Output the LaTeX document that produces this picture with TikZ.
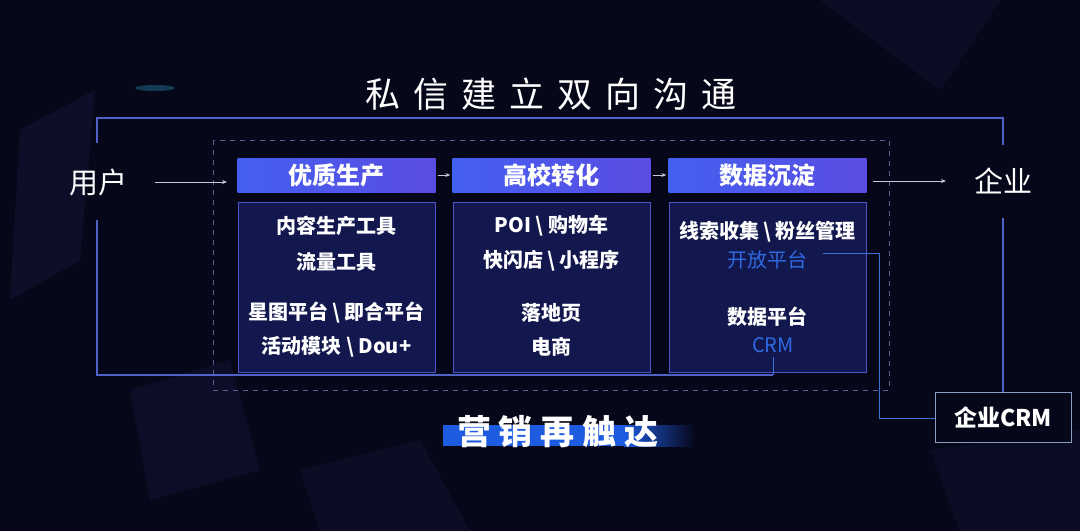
\documentclass[tikz,border=0pt]{standalone}
\usepackage{fontspec}
\setmainfont{Noto Sans CJK SC}
\usetikzlibrary{arrows.meta}
\definecolor{bg}{HTML}{07071A}
\definecolor{bgshard}{HTML}{1A1A40}
\definecolor{frameblue}{HTML}{5062C8}
\definecolor{dashc}{HTML}{5A6094}
\definecolor{hdrL}{HTML}{4460F0}
\definecolor{hdrR}{HTML}{5A4CE2}
\definecolor{cboxfill}{HTML}{151A58}
\definecolor{cboxline}{HTML}{4A56C8}
\definecolor{bluetxt}{HTML}{2F6AE0}
\definecolor{linkblue}{HTML}{3A72D8}
\definecolor{crmline}{HTML}{8A9CC4}
\definecolor{arrc}{HTML}{C8C8DC}
\definecolor{barblue}{HTML}{1D5BE0}
\definecolor{glow}{HTML}{2FB8D8}
\newcommand{\tgapA}{\kern13pt}
\newcommand{\tgapB}{\kern8pt}
\begin{document}
\begin{tikzpicture}[x=1pt,y=-1pt,
  hdr/.style={draw=none,left color=hdrL,right color=hdrR,minimum width=198pt,minimum height=34pt,inner sep=0pt,text=white,font=\fontsize{24}{24}\selectfont\bfseries},
  cbox/.style={draw=cboxline,line width=1pt,fill=cboxfill,fill opacity=0.85,minimum width=197pt,minimum height=170pt,inner sep=0pt},
  txt/.style={text=white,inner sep=0pt,font=\fontsize{20}{22}\selectfont\bfseries},
  btxt/.style={text=bluetxt,inner sep=0pt,font=\fontsize{20}{22}\selectfont},
  big/.style={text=white,inner sep=0pt,font=\fontsize{29}{30}\selectfont},
  frame/.style={draw=frameblue,line width=1.2pt},
  link/.style={draw=linkblue,line width=1pt},
  arr/.style={draw=arrc,line width=0.9pt,-{Stealth[length=5pt,width=4pt]}},
  dashbox/.style={draw=dashc,line width=1pt,dash pattern=on 5pt off 5pt}]
\useasboundingbox (0,0) rectangle (1080,531);
\fill[bg] (0,0) rectangle (1080,531);
% faint background shards
\fill[bgshard,opacity=0.4] (20,130) -- (95,90) -- (80,260) -- (10,300) -- cycle;
\fill[bgshard,opacity=0.35] (130,390) -- (230,360) -- (260,470) -- (150,500) -- cycle;
\fill[bgshard,opacity=0.3] (300,470) -- (420,440) -- (470,531) -- (320,531) -- cycle;
\fill[bgshard,opacity=0.3] (820,0) -- (1000,0) -- (940,90) -- cycle;
\fill[bgshard,opacity=0.3] (930,450) -- (1080,430) -- (1080,531) -- (960,531) -- cycle;
\fill[glow,opacity=0.3] (155,88) ellipse (20pt and 3pt);
% title
\node[text=white,inner sep=0pt,font=\fontsize{35}{35}\selectfont] (title) at (551,94)
  {私\tgapA 信\tgapA 建\tgapA 立\tgapA 双\tgapA 向\tgapA 沟\tgapA 通};
% dashed region
\draw[dashbox] (213,140) rectangle (889,390);
% content boxes
\node[cbox] (c1) at (336.5,287) {};
\node[cbox] (c2) at (551.5,287) {};
\node[cbox] (c3) at (767.5,287) {};
% headers
\node[hdr] (h1) at (336.5,175) {优质生产};
\node[hdr] (h2) at (551.5,175) {高校转化};
\node[hdr] (h3) at (767.5,175) {数据沉淀};
% box texts
\node[txt] (t11) at (336.5,226) {内容生产工具};
\node[txt] (t12) at (336.5,262) {流量工具};
\node[txt] (t13) at (336.5,313) {星图平台 \textbackslash{} 即合平台};
\node[txt] (t14) at (336.5,347) {活动模块 \textbackslash{} Dou+};
\node[txt] (t21) at (551.5,226) {POI \textbackslash{} 购物车};
\node[txt] (t22) at (551.5,261) {快闪店 \textbackslash{} 小程序};
\node[txt] (t23) at (551.5,313) {落地页};
\node[txt] (t24) at (551.5,347) {电商};
\node[txt] (t31) at (767.5,232) {线索收集 \textbackslash{} 粉丝管理};
\node[btxt] (t32) at (767.5,260) {开放平台};
\node[txt] (t33) at (767.5,317) {数据平台};
\node[btxt] (t34) at (773,345) {CRM};
% side labels
\node[big] (yh) at (98,182) {用户};
\node[big] (qy) at (1003,181) {企业};
% enterprise CRM box
\node[draw=crmline,line width=1pt,fill=bg,minimum width=136pt,minimum height=50pt,inner sep=0pt,text=white,font=\fontsize{23}{24}\selectfont\bfseries] (ecrm) at (1003,417) {企业CRM};
% bottom label with bar
\fill[barblue] (443,425) rectangle (625,446);
\shade[left color=barblue,right color=bg] (624,425) rectangle (695,446);
\node[text=white,inner sep=0pt,font=\fontsize{34}{34}\selectfont\bfseries] (mk) at (558,432)
  {营\tgapB 销\tgapB 再\tgapB 触\tgapB 达};
% outer frame
\coordinate (fl1) at (97,143);
\coordinate (fl2) at (97,118);
\coordinate (fr2) at (1003,118);
\coordinate (fr1) at (1003,145);
\draw[frame] (fl1) -- (fl2) -- (fr2) -- (fr1);
\coordinate (fl3) at (97,220);
\coordinate (fl4) at (97,375);
\coordinate (fb) at (773,375);
\coordinate (crmtop) at (773,357);
\draw[frame] (fl3) -- (fl4) -- (fb);
\draw[link] (fb) -- (crmtop);
% enterprise line
\coordinate (qyb) at (1003,218);
\draw[frame] (qyb) -- (ecrm.north);
% open platform link
\coordinate (op1) at (823,253);
\coordinate (op2) at (879,253);
\coordinate (op3) at (879,418);
\draw[link] (op1) -- (op2) -- (op3) -- (ecrm.west |- op3);
% arrows
\coordinate (a1s) at (155,182);
\coordinate (a1e) at (227,182);
\draw[arr] (a1s) -- (a1e);
\draw[arr,shorten <=2pt,shorten >=2pt] (h1.east) -- (h2.west);
\draw[arr,shorten <=2pt,shorten >=2pt] (h2.east) -- (h3.west);
\coordinate (a4s) at (873,181);
\coordinate (a4e) at (946,181);
\draw[arr] (a4s) -- (a4e);
\end{tikzpicture}
\end{document}
